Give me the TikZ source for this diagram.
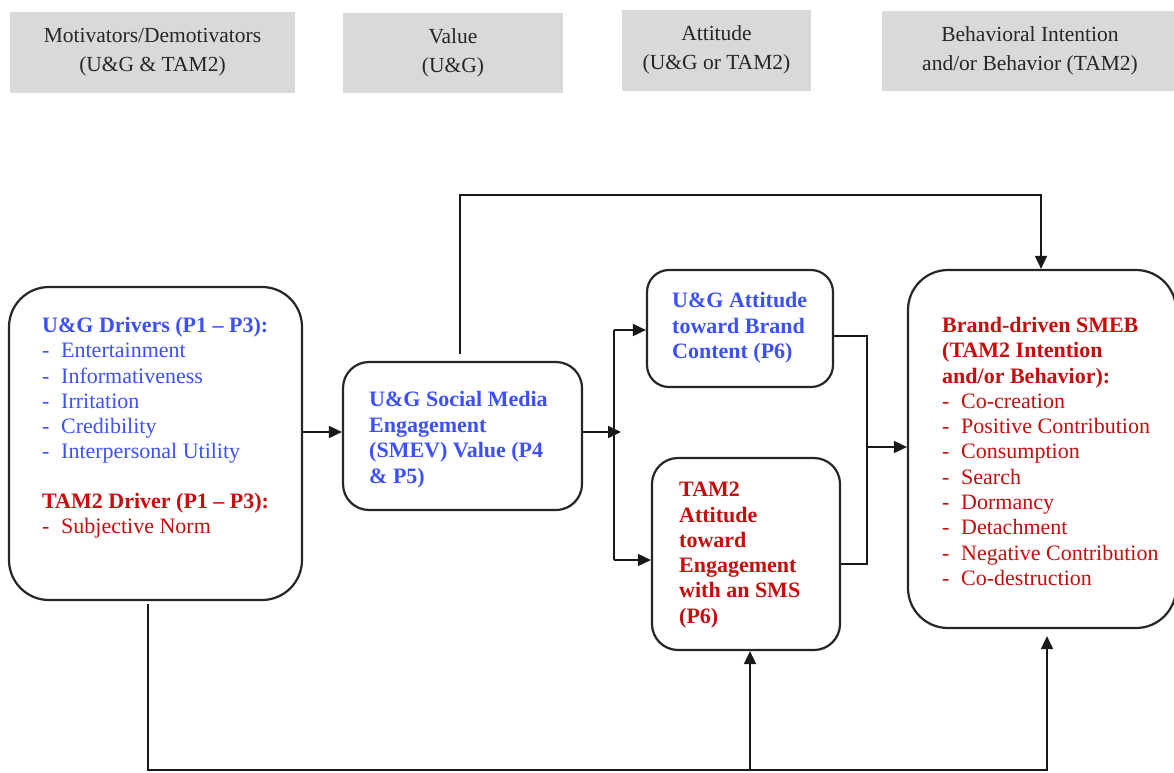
\documentclass[tikz,border=0pt]{standalone}
\usepackage{fontspec}
\setmainfont{Liberation Serif}
\usetikzlibrary{arrows.meta,calc}
\definecolor{hdrgray}{RGB}{217,217,217}
\definecolor{ugblue}{RGB}{60,80,255}
\definecolor{tamred}{RGB}{200,12,12}
\newcommand\dashitem[1]{\makebox[19pt][l]{-}#1}
\begin{document}
\begin{tikzpicture}[x=1pt,y=-1pt,
  hdr/.style={fill=hdrgray, draw=none, inner sep=0, align=center,
    font=\fontsize{21.5}{29.5}\selectfont, text=black!85},
  rbox/.style={draw=black!85, line width=2.2pt, rounded corners=#1, inner sep=0},
  txt/.style={anchor=north west, inner sep=0, align=left,
    font=\fontsize{22}{25.3}\selectfont},
  conn/.style={line width=1.8pt, draw=black!90},
  arr/.style={conn, -{Triangle[length=13pt,width=12pt]}}]
\useasboundingbox (0,0) rectangle (1174,772);
\fill[white] (0,0) rectangle (1174,772);

% header boxes
\node[hdr, minimum width=285, minimum height=81] (h1) at (152.5,52) {Motivators/Demotivators\\(U\&G \& TAM2)};
\node[hdr, minimum width=220, minimum height=80] (h2) at (453,53) {Value\\(U\&G)};
\node[hdr, minimum width=189, minimum height=81] (h3) at (716.5,50) {Attitude\\(U\&G or TAM2)};
\node[hdr, minimum width=296, minimum height=80] (h4) at (1030,51) {Behavioral Intention\\and/or Behavior (TAM2)};

% main boxes
\node[rbox=40, minimum width=293, minimum height=313] (left) at (155.5,443.5) {};
\node[rbox=26, minimum width=239, minimum height=148] (smev) at (462.5,436) {};
\node[rbox=22, minimum width=186, minimum height=117] (ugatt) at (740,328.5) {};
\node[rbox=26, minimum width=188, minimum height=192] (tam) at (746,554) {};
\node[rbox=40, minimum width=268, minimum height=358] (smeb) at (1042,449) {};

% texts
\node[txt, text=ugblue] (lefttxt) at (42,317) {\textbf{U\&G Drivers (P1 – P3):}\\
  \dashitem{Entertainment}\\ \dashitem{Informativeness}\\ \dashitem{Irritation}\\
  \dashitem{Credibility}\\ \dashitem{Interpersonal Utility}};
\node[txt, text=tamred] (lefttam) at (42,493) {\textbf{TAM2 Driver (P1 – P3):}\\
  \dashitem{Subjective Norm}};
\node[txt, text=ugblue, font=\bfseries\fontsize{22}{25.6}\selectfont] (smevtxt) at (369,391)
  {U\&G Social Media\\Engagement\\(SMEV) Value (P4\\\& P5)};
\node[txt, text=ugblue, font=\bfseries\fontsize{22}{25.6}\selectfont] (ugtxt) at (672,292)
  {U\&G Attitude\\toward Brand\\Content (P6)};
\node[txt, text=tamred, font=\bfseries\fontsize{22}{25.3}\selectfont] (tamtxt) at (679,482)
  {TAM2\\Attitude\\toward\\Engagement\\with an SMS\\(P6)};
\node[txt, text=tamred] (smebtxt) at (942,317) {\textbf{Brand-driven SMEB}\\
  \textbf{(TAM2 Intention}\\ \textbf{and/or Behavior):}\\
  \dashitem{Co-creation}\\ \dashitem{Positive Contribution}\\ \dashitem{Consumption}\\
  \dashitem{Search}\\ \dashitem{Dormancy}\\ \dashitem{Detachment}\\
  \dashitem{Negative Contribution}\\ \dashitem{Co-destruction}};

% junction coordinates
\coordinate (j1) at (614,432);
\coordinate (j1tip) at (621,432);
\coordinate (b1) at (614,330);
\coordinate (b2) at (614,560);
\coordinate (c1) at (867,336);
\coordinate (c2) at (867,564);
\coordinate (j2) at (867,447);
\coordinate (t1) at (460,195);
\coordinate (t2) at (1041,195);
\coordinate (u1) at (148,770);
\coordinate (u2) at (1047,770);
\coordinate (u3) at (750,770);

% connectors
\draw[arr] (left.east |- j1) -- (smev.west |- j1);
\draw[arr] (smev.east |- j1) -- (j1tip);
\draw[conn] (b1) -- (b2);
\draw[arr] (b1) -- (ugatt.west |- b1);
\draw[arr] (b2) -- (tam.west |- b2);
\draw[conn] (ugatt.east |- c1) -- (c1) -- (c2) -- (tam.east |- c2);
\draw[arr] (j2) -- (smeb.west |- j2);
\draw[arr, shorten <=7pt] (smev.north -| t1) -- (t1) -- (t2) -- (smeb.north -| t2);
\draw[arr, shorten <=3pt, shorten >=7pt] (left.south -| u1) -- (u1) -- (u2) -- (smeb.south -| u2);
\draw[arr] (u3) -- (tam.south -| u3);
\end{tikzpicture}
\end{document}
